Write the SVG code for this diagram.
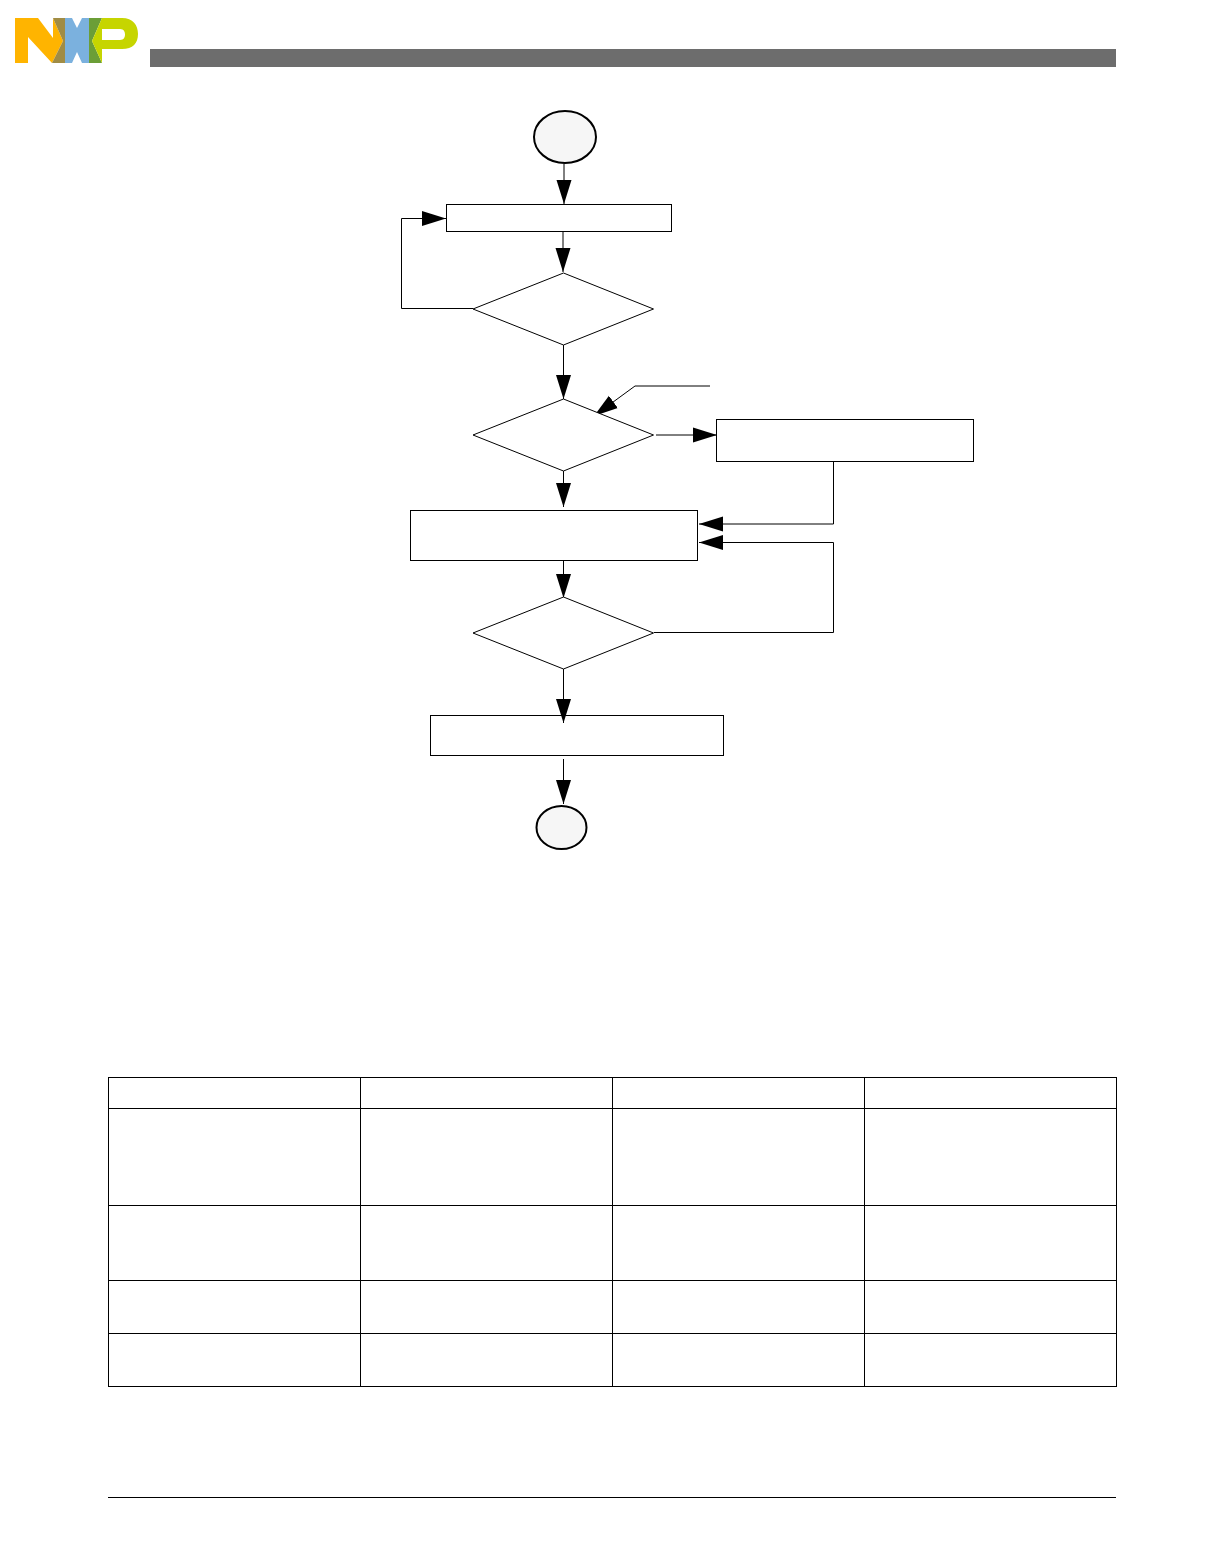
<svg xmlns="http://www.w3.org/2000/svg" width="1224" height="1555" viewBox="0 0 1224 1555">
<style>
.box{fill:#fff;stroke:#000;stroke-width:1}
.term{fill:#f6f6f6;stroke:#000;stroke-width:2}
.conn{fill:none;stroke:#000;stroke-width:1}
.arr{marker-end:url(#ah)}
.grid{stroke:#000;stroke-width:1;fill:none}
</style>
<defs>
<marker id="ah" markerUnits="userSpaceOnUse" markerWidth="25" markerHeight="16" refX="24" refY="8" orient="auto">
<path d="M0 0.5L24 8L0 15.5Z" fill="#000"/>
</marker>
</defs>
<rect width="1224" height="1555" fill="#fff"/>
<g id="logo">
<polygon points="15,18 38,18 53,38 53,18 63,41 52,63 28,37 28,63 15,63" fill="#ffb400"/>
<polygon points="53,18 65,18 65,63 52,63 63,41" fill="#a08c45"/>
<polygon points="65,18 72,18 77,28 82,18 89,18 89,63 82,63 77,52 72,63 65,63" fill="#7bb1de"/>
<polygon points="89,18 102,18 92,41 102,63 89,63" fill="#6b9e37"/>
<path d="M102,18H122C133,18 138,25 138,34C138,43 133,49 122,49H102V63L92,41ZM102,29V40H120C124,40 125,37 125,34.5C125,32 124,29 120,29Z" fill="#c6d500" fill-rule="evenodd"/>
</g>
<rect id="header-bar" x="150" y="49" width="966" height="18" fill="#6d6d6d"/>
<g id="connectors">
<path class="conn arr" d="M564 164V204"/>
<path class="conn arr" d="M563 232V272"/>
<path class="conn arr" d="M473 308.5H401.5V218.5H446"/>
<path class="conn arr" d="M563.5 345V399"/>
<path class="conn arr" d="M710 386H635L594 416"/>
<path class="conn arr" d="M656 435H717"/>
<path class="conn arr" d="M563.5 471V507"/>
<path class="conn arr" d="M833.5 461V524H699"/>
<path class="conn arr" d="M654 632.5H833.5V542.5H699"/>
<path class="conn arr" d="M563.5 561V598"/>
<path class="conn" d="M563.5 669V700"/>
<path class="conn arr" d="M563.5 759V804"/>
</g>
<g id="start"><ellipse class="term" cx="565" cy="137" rx="31" ry="26"/></g>
<g id="box-1"><rect class="box" x="446.5" y="204.5" width="225" height="27"/></g>
<g id="decision-1"><polygon class="box" points="473,309 563.5,273 653.5,309 563.5,345"/></g>
<g id="decision-2"><polygon class="box" points="473,435 563.5,399 653.5,435 563.5,471"/></g>
<g id="box-right"><rect class="box" x="716.5" y="419.5" width="257" height="42"/></g>
<g id="box-mid"><rect class="box" x="410.5" y="510.5" width="287" height="50"/></g>
<g id="decision-3"><polygon class="box" points="473,633 563.5,597 653.5,633 563.5,669"/></g>
<g id="box-bottom"><rect class="box" x="430.5" y="715.5" width="293" height="40"/></g>
<g id="arrow-over-box"><path class="conn arr" d="M563.5 690V723"/></g>
<g id="end"><ellipse class="term" cx="561.5" cy="827.5" rx="25" ry="21.5"/></g>
<g id="table">
<rect class="grid" x="108.5" y="1077.5" width="1008" height="309"/>
<path class="grid" d="M360.5 1077.5V1386.5M612.5 1077.5V1386.5M864.5 1077.5V1386.5M108.5 1108.5H1116.5M108.5 1205.5H1116.5M108.5 1280.5H1116.5M108.5 1333.5H1116.5"/>
</g>
<path id="footer-rule" d="M108 1497.5H1116" stroke="#000" stroke-width="1" fill="none"/>
</svg>
